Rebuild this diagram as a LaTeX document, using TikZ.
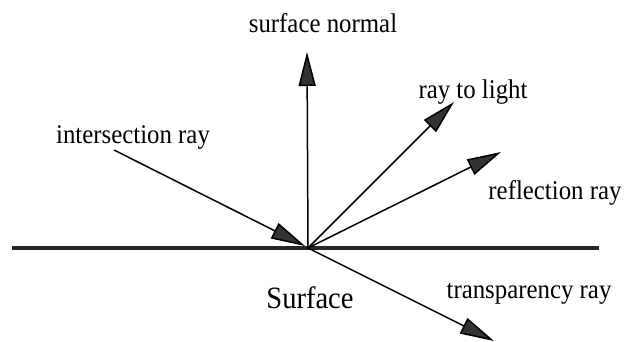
\documentclass[tikz,border=0pt]{standalone}
\usepackage{fontspec}
\setmainfont{Liberation Serif}
\usetikzlibrary{arrows.meta}
\newcommand\condtxt[1]{\scalebox{0.92}[1]{#1}}
\begin{document}
\begin{tikzpicture}[x=1pt,y=-1pt,
  ray/.style={line width=1.5pt, -{Triangle[length=34pt,width=17pt,fill=black!80]}},
  lbl/.style={font=\fontsize{27}{30}\selectfont, inner sep=0pt},
  big/.style={font=\fontsize{31}{34}\selectfont, inner sep=0pt},
  surf/.style={line width=4pt, draw=black!85}
]
\useasboundingbox (0,0) rectangle (627,342);
\coordinate (O) at (308,248);
\coordinate (L) at (12,248);
\coordinate (R) at (599,248);
\coordinate (N) at (307,52);
\coordinate (I) at (114,150);
\coordinate (Itip) at (305,246);
\coordinate (T) at (454,102);
\coordinate (F) at (501,152);
\coordinate (P) at (494,341);
\draw[surf] (L) -- (R);
\draw[ray] (O) -- (N);
\draw[ray] (I) -- (Itip);
\draw[ray] (O) -- (T);
\draw[ray] (O) -- (F);
\draw[ray] (O) -- (P);
\node[lbl] (ln) at (323,23) {\condtxt{surface normal}};
\node[lbl] (li) at (133,137) {\condtxt{intersection ray}};
\node[lbl] (lt) at (473,92) {\condtxt{ray to light}};
\node[lbl] (lf) at (555,193) {\condtxt{reflection ray}};
\node[lbl] (lp) at (529,294) {\condtxt{transparency ray}};
\node[big] (ls) at (310,298) {\condtxt{Surface}};
\end{tikzpicture}
\end{document}
